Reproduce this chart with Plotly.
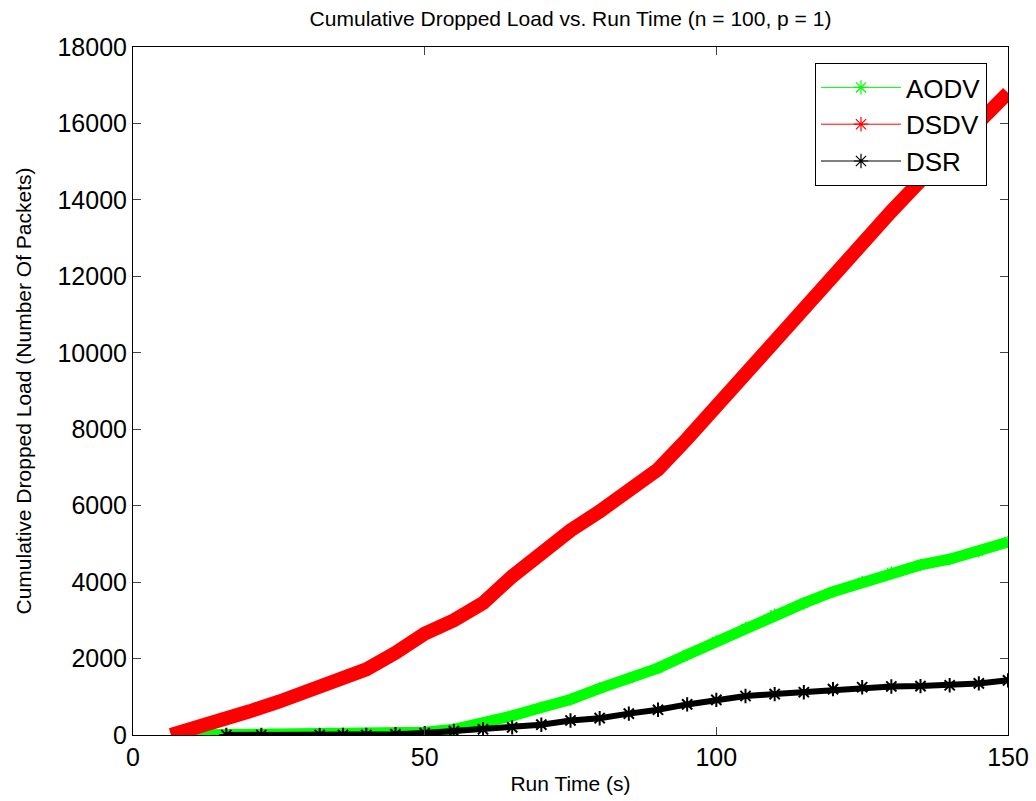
import plotly.graph_objects as go

# ---- data ----
dsdv_t = [6.5, 8, 10, 12.5, 15, 17.5, 20, 25, 30, 35, 40, 45, 50, 55, 60, 65, 70, 75,
          80, 85, 90, 95, 100, 105, 110, 115, 120, 125, 130, 135, 140, 145, 150]
dsdv_v = [0, 60, 150, 250, 380, 500, 620, 870, 1140, 1420, 1720, 2150, 2650, 3000, 3450,
          4150, 4800, 5350, 5850, 6350, 6950, 7750, 8600, 9550, 10400, 11150, 12050,
          12900, 13700, 14500, 15300, 16000, 16800]

aodv_t = [8, 12, 15, 18, 22, 25, 30, 35, 40, 45, 50, 55, 60, 65, 70, 75, 80, 85, 90,
          95, 100, 105, 110, 115, 120, 125, 130, 135, 140, 145, 150]
aodv_v = [0, 0, 0, 0, 0, 0, 0, 0, 10, 30, 70, 150, 300, 500, 720, 930, 1220, 1480, 1750,
          2100, 2450, 2800, 3150, 3450, 3750, 4000, 4250, 4450, 4600, 4800, 5050]

dsr_t = [16, 22, 32, 36, 40, 45, 50, 55, 60, 65, 70, 75, 80, 85, 90, 95, 100, 105, 110,
         115, 120, 125, 130, 135, 140, 145, 150]
dsr_v = [0, 0, 0, 0, 0, 20, 50, 100, 150, 200, 270, 380, 440, 560, 660, 800, 920, 1020,
         1070, 1120, 1200, 1250, 1270, 1280, 1300, 1350, 1430]

x_ticks = [0, 50, 100, 150]
y_ticks = [0, 2000, 4000, 6000, 8000, 10000, 12000, 14000, 16000, 18000]

series_names = ["AODV", "DSDV", "DSR"]
series_colors = ["#00ff00", "#ff0000", "#000000"]

TICKFONT = dict(family="Liberation Sans, Arial, sans-serif", size=25)

fig = go.Figure()

# data traces (thick bands of dense star markers in the original)
fig.add_trace(go.Scatter(x=aodv_t, y=aodv_v, mode="lines+markers", showlegend=False,
                         line=dict(color=series_colors[0], width=11),
                         marker=dict(symbol="asterisk-open", size=10,
                                     line=dict(color=series_colors[0], width=1.5))))
fig.add_trace(go.Scatter(x=dsdv_t, y=dsdv_v, mode="lines", showlegend=False,
                         line=dict(color=series_colors[1], width=14)))
fig.add_trace(go.Scatter(x=dsr_t, y=dsr_v, mode="lines+markers", showlegend=False,
                         line=dict(color=series_colors[2], width=6),
                         marker=dict(symbol="asterisk-open", size=12,
                                     line=dict(color=series_colors[2], width=2))))

# legend entries (thin line with star marker)
for name, col in zip(series_names, series_colors):
    fig.add_trace(go.Scatter(x=[None], y=[None], mode="lines+markers", name=name,
                             line=dict(color=col, width=1),
                             marker=dict(symbol="asterisk-open", size=12,
                                         line=dict(color=col, width=1.2))))

fig.update_layout(
    width=1036, height=801,
    margin=dict(l=133, r=28, t=47, b=66),
    paper_bgcolor="white", plot_bgcolor="white",
    font=dict(family="Liberation Sans, Arial, sans-serif", color="black"),
    title=dict(text="Cumulative Dropped Load vs. Run Time (n = 100, p = 1)",
               x=(133 + 1008) / 2 / 1036, xanchor="center", y=1 - 19 / 801, yanchor="middle",
               font=dict(size=21)),
    xaxis=dict(range=[0, 150], tickvals=x_ticks, ticktext=[str(v) for v in x_ticks],
               ticks="inside", ticklen=8, automargin=False,
               showline=True, linecolor="black", linewidth=1, mirror="ticks",
               showgrid=False, zeroline=False, tickfont=TICKFONT,
               title=dict(text="Run Time (s)", font=dict(size=21), standoff=6)),
    yaxis=dict(range=[0, 18000], tickvals=y_ticks, ticktext=[str(v) for v in y_ticks],
               ticks="inside", ticklen=8, automargin=False,
               showline=True, linecolor="black", linewidth=1, mirror="ticks",
               showgrid=False, zeroline=False, tickfont=TICKFONT,
               title=dict(text="Cumulative Dropped Load (Number Of Packets)",
                          font=dict(size=21), standoff=20)),
    legend=dict(x=(987 - 133) / 875, y=(735 - 63) / 688, xanchor="right", yanchor="top",
                bgcolor="white", bordercolor="black", borderwidth=1,
                font=dict(size=26), itemwidth=80, tracegroupgap=0),
)

fig.write_html("out.html")
